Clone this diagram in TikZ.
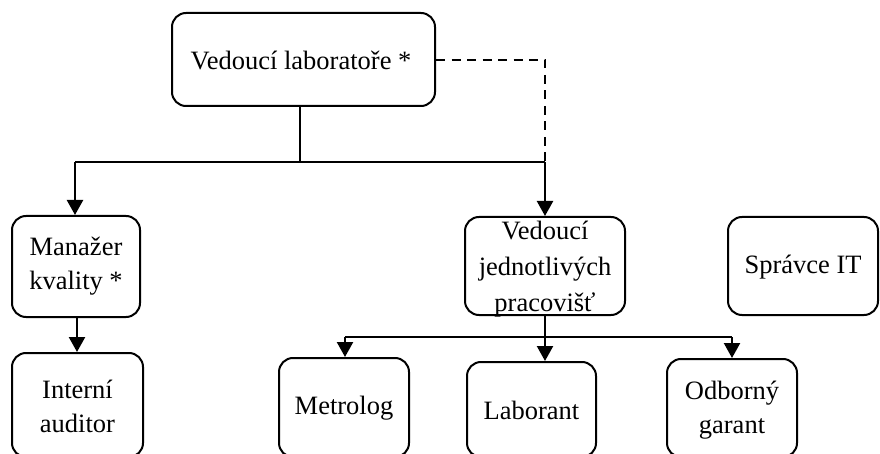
\documentclass[tikz,border=0pt]{standalone}
\usepackage{fontspec}
\setmainfont{Liberation Serif}
\usetikzlibrary{arrows.meta}
\begin{document}
\begin{tikzpicture}[x=1pt,y=-1pt,
  box/.style={draw,line width=2pt,rounded corners=14pt,inner sep=0pt},
  txt/.style={align=center,inner sep=0pt,font=\fontsize{26.5}{34}\selectfont},
  conn/.style={line width=2.3pt},
  arr/.style={conn,-{Triangle[width=16pt,length=15pt]}},
  dsh/.style={line width=2pt,dash pattern=on 9pt off 6.5pt}]
\useasboundingbox (0,0) rectangle (880,454);
% boxes
\node[box,minimum width=263pt,minimum height=93pt] (top) at (303.5,59.5) {};
\node[box,minimum width=128pt,minimum height=101pt] (man) at (76,266.5) {};
\node[box,minimum width=131pt,minimum height=104pt] (int) at (77.5,405) {};
\node[box,minimum width=160pt,minimum height=98pt] (vj) at (545,266) {};
\node[box,minimum width=150pt,minimum height=98pt] (it) at (803,266) {};
\node[box,minimum width=130pt,minimum height=99pt] (met) at (344,407.5) {};
\node[box,minimum width=129pt,minimum height=95pt] (lab) at (531.5,409.5) {};
\node[box,minimum width=130pt,minimum height=98pt] (odb) at (732,408) {};
% texts
\node[txt] (ttop) at (301,60) {Vedoucí laboratoře *};
\node[txt] (tman) at (76,266.5) {Manažer\\kvality *};
\node[txt] (tint) at (77.5,406.5) {Interní\\auditor};
\node[txt,font=\fontsize{26.5}{36}\selectfont] (tvj) at (545,269) {Vedoucí\\jednotlivých\\pracovišť};
\node[txt] (tit) at (803,267) {Správce IT};
\node[txt] (tmet) at (344,408) {Metrolog};
\node[txt] (tlab) at (531.5,410) {Laborant};
\node[txt] (todb) at (732,410) {Odborný\\garant};
% junctions
\coordinate (j1) at (300,162);
\coordinate (jl) at (75,162);
\coordinate (jr) at (545,162);
\coordinate (d1) at (545,60);
\coordinate (j2) at (545,337);
\coordinate (jm) at (345,337);
\coordinate (jo) at (732,337);
% connectors
\draw[conn] (top.south -| j1) -- (j1);
\draw[conn] (jl) -- (jr);
\draw[arr] (jl) -- (jl |- man.north);
\draw[dsh] (top.east |- d1) -- (d1) -- (jr);
\draw[arr] (jr) -- (vj.north);
\draw[arr] (man.south -| 77,0) -- (int.north -| 77,0);
\draw[conn] (vj.south) -- (j2);
\draw[conn] (jm) -- (jo);
\draw[arr] (jm) -- (met.north -| jm);
\draw[arr] (j2) -- (lab.north -| j2);
\draw[arr] (jo) -- (odb.north);
\end{tikzpicture}
\end{document}
